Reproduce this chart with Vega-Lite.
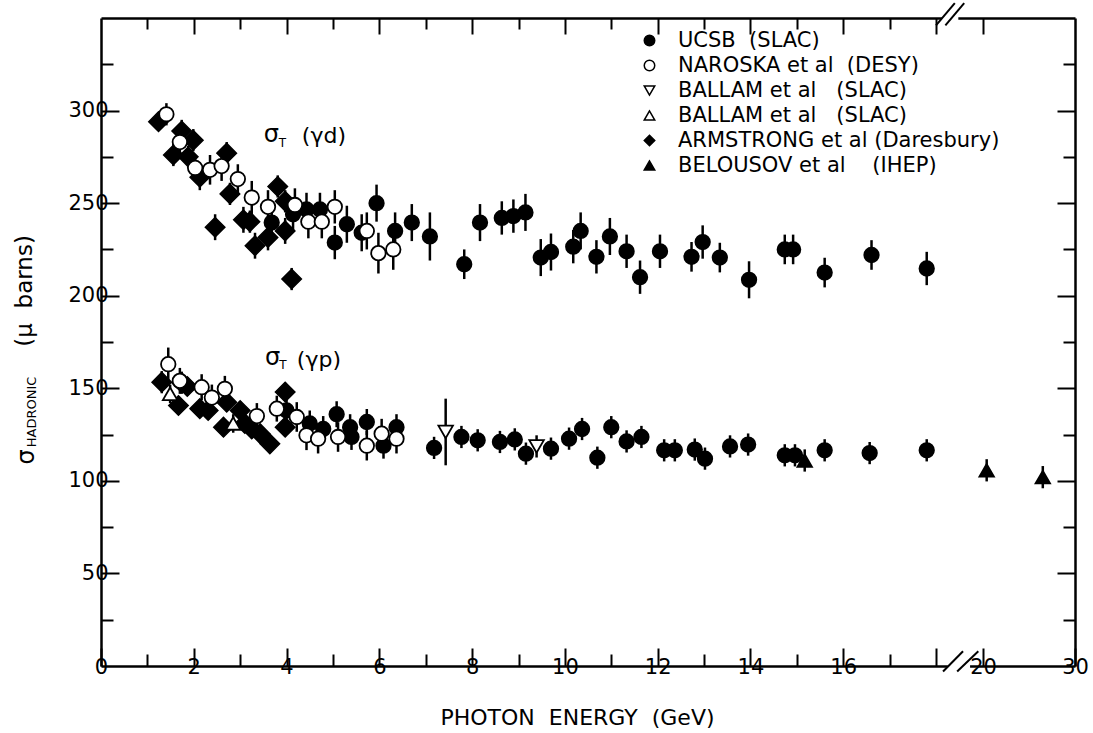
{
  "$schema": "https://vega.github.io/schema/vega-lite/v6.json",
  "width": 974,
  "height": 648,
  "autosize": "none",
  "padding": {"left": 101, "top": 18, "right": 18, "bottom": 67},
  "background": "white",
  "config": {
    "view": {"stroke": null},
    "font": "DejaVu Sans",
    "axis": {
      "grid": false,
      "ticks": true,
      "labelFont": "DejaVu Sans",
      "labelFontSize": 21,
      "labelColor": "black",
      "tickColor": "black",
      "tickWidth": 2,
      "domainColor": "black",
      "domainWidth": 2.5,
      "labelOverlap": false,
      "labelFlush": false,
      "titleFont": "DejaVu Sans",
      "titleFontWeight": "normal",
      "titleColor": "black"
    }
  },
  "datasets": {
    "sigmaT": [
      {"E": 1.24, "sigma": 294, "err": 5, "src": "ARMSTRONG et al (Daresbury)"},
      {"E": 1.74, "sigma": 289, "err": 6, "src": "ARMSTRONG et al (Daresbury)"},
      {"E": 1.99, "sigma": 284, "err": 6, "src": "ARMSTRONG et al (Daresbury)"},
      {"E": 1.56, "sigma": 276, "err": 6, "src": "ARMSTRONG et al (Daresbury)"},
      {"E": 1.88, "sigma": 275, "err": 6, "src": "ARMSTRONG et al (Daresbury)"},
      {"E": 2.13, "sigma": 264, "err": 7, "src": "ARMSTRONG et al (Daresbury)"},
      {"E": 2.71, "sigma": 277, "err": 6, "src": "ARMSTRONG et al (Daresbury)"},
      {"E": 2.78, "sigma": 255, "err": 6, "src": "ARMSTRONG et al (Daresbury)"},
      {"E": 2.46, "sigma": 237, "err": 7, "src": "ARMSTRONG et al (Daresbury)"},
      {"E": 3.07, "sigma": 241, "err": 7, "src": "ARMSTRONG et al (Daresbury)"},
      {"E": 3.21, "sigma": 240, "err": 6, "src": "ARMSTRONG et al (Daresbury)"},
      {"E": 3.32, "sigma": 227, "err": 7, "src": "ARMSTRONG et al (Daresbury)"},
      {"E": 3.6, "sigma": 231.5, "err": 7, "src": "ARMSTRONG et al (Daresbury)"},
      {"E": 3.81, "sigma": 259, "err": 6, "src": "ARMSTRONG et al (Daresbury)"},
      {"E": 3.97, "sigma": 251, "err": 6, "src": "ARMSTRONG et al (Daresbury)"},
      {"E": 3.97, "sigma": 235, "err": 7, "src": "ARMSTRONG et al (Daresbury)"},
      {"E": 4.11, "sigma": 209, "err": 6, "src": "ARMSTRONG et al (Daresbury)"},
      {"E": 3.68, "sigma": 239.5, "err": 9, "src": "UCSB\u00a0\u00a0(SLAC)"},
      {"E": 4.14, "sigma": 244, "err": 9, "src": "UCSB\u00a0\u00a0(SLAC)"},
      {"E": 4.43, "sigma": 246.6, "err": 9, "src": "UCSB\u00a0\u00a0(SLAC)"},
      {"E": 4.72, "sigma": 246.6, "err": 9, "src": "UCSB\u00a0\u00a0(SLAC)"},
      {"E": 5.04, "sigma": 228.7, "err": 9, "src": "UCSB\u00a0\u00a0(SLAC)"},
      {"E": 5.3, "sigma": 238.6, "err": 10, "src": "UCSB\u00a0\u00a0(SLAC)"},
      {"E": 5.62, "sigma": 234, "err": 10, "src": "UCSB\u00a0\u00a0(SLAC)"},
      {"E": 5.94, "sigma": 250, "err": 10, "src": "UCSB\u00a0\u00a0(SLAC)"},
      {"E": 6.34, "sigma": 235, "err": 10, "src": "UCSB\u00a0\u00a0(SLAC)"},
      {"E": 6.7, "sigma": 239.5, "err": 10, "src": "UCSB\u00a0\u00a0(SLAC)"},
      {"E": 7.09, "sigma": 232, "err": 13, "src": "UCSB\u00a0\u00a0(SLAC)"},
      {"E": 7.83, "sigma": 217, "err": 8, "src": "UCSB\u00a0\u00a0(SLAC)"},
      {"E": 8.17, "sigma": 239.5, "err": 10, "src": "UCSB\u00a0\u00a0(SLAC)"},
      {"E": 8.64, "sigma": 242, "err": 9, "src": "UCSB\u00a0\u00a0(SLAC)"},
      {"E": 8.89, "sigma": 243, "err": 9, "src": "UCSB\u00a0\u00a0(SLAC)"},
      {"E": 9.15, "sigma": 245, "err": 10, "src": "UCSB\u00a0\u00a0(SLAC)"},
      {"E": 9.48, "sigma": 220.6, "err": 10, "src": "UCSB\u00a0\u00a0(SLAC)"},
      {"E": 9.7, "sigma": 223.6, "err": 10, "src": "UCSB\u00a0\u00a0(SLAC)"},
      {"E": 10.18, "sigma": 226.5, "err": 9, "src": "UCSB\u00a0\u00a0(SLAC)"},
      {"E": 10.34, "sigma": 235, "err": 10, "src": "UCSB\u00a0\u00a0(SLAC)"},
      {"E": 10.68, "sigma": 221, "err": 9, "src": "UCSB\u00a0\u00a0(SLAC)"},
      {"E": 10.97, "sigma": 232, "err": 10, "src": "UCSB\u00a0\u00a0(SLAC)"},
      {"E": 11.33, "sigma": 224, "err": 9, "src": "UCSB\u00a0\u00a0(SLAC)"},
      {"E": 11.62, "sigma": 210, "err": 9, "src": "UCSB\u00a0\u00a0(SLAC)"},
      {"E": 12.05, "sigma": 224, "err": 9, "src": "UCSB\u00a0\u00a0(SLAC)"},
      {"E": 12.73, "sigma": 221, "err": 8, "src": "UCSB\u00a0\u00a0(SLAC)"},
      {"E": 12.97, "sigma": 229, "err": 9, "src": "UCSB\u00a0\u00a0(SLAC)"},
      {"E": 13.34, "sigma": 220.6, "err": 8, "src": "UCSB\u00a0\u00a0(SLAC)"},
      {"E": 13.97, "sigma": 208.6, "err": 10, "src": "UCSB\u00a0\u00a0(SLAC)"},
      {"E": 14.74, "sigma": 225, "err": 8, "src": "UCSB\u00a0\u00a0(SLAC)"},
      {"E": 14.92, "sigma": 225, "err": 8, "src": "UCSB\u00a0\u00a0(SLAC)"},
      {"E": 15.6, "sigma": 212.5, "err": 8, "src": "UCSB\u00a0\u00a0(SLAC)"},
      {"E": 16.61, "sigma": 222, "err": 8, "src": "UCSB\u00a0\u00a0(SLAC)"},
      {"E": 17.8, "sigma": 214.7, "err": 9, "src": "UCSB\u00a0\u00a0(SLAC)"},
      {"E": 1.41, "sigma": 298, "err": 6, "src": "NAROSKA et al\u00a0\u00a0(DESY)"},
      {"E": 1.7, "sigma": 283, "err": 7, "src": "NAROSKA et al\u00a0\u00a0(DESY)"},
      {"E": 2.03, "sigma": 269, "err": 7, "src": "NAROSKA et al\u00a0\u00a0(DESY)"},
      {"E": 2.35, "sigma": 268, "err": 8, "src": "NAROSKA et al\u00a0\u00a0(DESY)"},
      {"E": 2.6, "sigma": 270, "err": 8, "src": "NAROSKA et al\u00a0\u00a0(DESY)"},
      {"E": 2.95, "sigma": 263, "err": 8, "src": "NAROSKA et al\u00a0\u00a0(DESY)"},
      {"E": 3.25, "sigma": 253, "err": 9, "src": "NAROSKA et al\u00a0\u00a0(DESY)"},
      {"E": 3.6, "sigma": 248, "err": 9, "src": "NAROSKA et al\u00a0\u00a0(DESY)"},
      {"E": 4.18, "sigma": 249, "err": 9, "src": "NAROSKA et al\u00a0\u00a0(DESY)"},
      {"E": 4.47, "sigma": 240, "err": 9, "src": "NAROSKA et al\u00a0\u00a0(DESY)"},
      {"E": 4.76, "sigma": 240, "err": 9, "src": "NAROSKA et al\u00a0\u00a0(DESY)"},
      {"E": 5.04, "sigma": 248, "err": 9, "src": "NAROSKA et al\u00a0\u00a0(DESY)"},
      {"E": 5.73, "sigma": 235, "err": 10, "src": "NAROSKA et al\u00a0\u00a0(DESY)"},
      {"E": 5.98, "sigma": 223, "err": 11, "src": "NAROSKA et al\u00a0\u00a0(DESY)"},
      {"E": 6.3, "sigma": 225, "err": 11, "src": "NAROSKA et al\u00a0\u00a0(DESY)"},
      {"E": 1.31, "sigma": 153.3, "err": 6, "src": "ARMSTRONG et al (Daresbury)"},
      {"E": 1.74, "sigma": 153, "err": 6, "src": "ARMSTRONG et al (Daresbury)"},
      {"E": 1.86, "sigma": 151, "err": 5, "src": "ARMSTRONG et al (Daresbury)"},
      {"E": 1.67, "sigma": 140.7, "err": 5, "src": "ARMSTRONG et al (Daresbury)"},
      {"E": 2.13, "sigma": 139, "err": 5, "src": "ARMSTRONG et al (Daresbury)"},
      {"E": 2.31, "sigma": 138, "err": 5, "src": "ARMSTRONG et al (Daresbury)"},
      {"E": 2.64, "sigma": 129, "err": 5, "src": "ARMSTRONG et al (Daresbury)"},
      {"E": 2.71, "sigma": 142.5, "err": 5, "src": "ARMSTRONG et al (Daresbury)"},
      {"E": 3.0, "sigma": 138, "err": 5, "src": "ARMSTRONG et al (Daresbury)"},
      {"E": 3.1, "sigma": 131, "err": 5, "src": "ARMSTRONG et al (Daresbury)"},
      {"E": 3.25, "sigma": 128, "err": 5, "src": "ARMSTRONG et al (Daresbury)"},
      {"E": 3.43, "sigma": 125.5, "err": 5, "src": "ARMSTRONG et al (Daresbury)"},
      {"E": 3.64, "sigma": 120, "err": 5, "src": "ARMSTRONG et al (Daresbury)"},
      {"E": 3.97, "sigma": 148, "err": 5, "src": "ARMSTRONG et al (Daresbury)"},
      {"E": 3.97, "sigma": 129, "err": 5, "src": "ARMSTRONG et al (Daresbury)"},
      {"E": 4.0, "sigma": 138, "err": 7, "src": "UCSB\u00a0\u00a0(SLAC)"},
      {"E": 4.5, "sigma": 131, "err": 7, "src": "UCSB\u00a0\u00a0(SLAC)"},
      {"E": 4.79, "sigma": 128, "err": 7, "src": "UCSB\u00a0\u00a0(SLAC)"},
      {"E": 5.08, "sigma": 136, "err": 7, "src": "UCSB\u00a0\u00a0(SLAC)"},
      {"E": 5.37, "sigma": 129, "err": 7, "src": "UCSB\u00a0\u00a0(SLAC)"},
      {"E": 5.4, "sigma": 123.7, "err": 7, "src": "UCSB\u00a0\u00a0(SLAC)"},
      {"E": 5.73, "sigma": 131.8, "err": 7, "src": "UCSB\u00a0\u00a0(SLAC)"},
      {"E": 6.09, "sigma": 119, "err": 7, "src": "UCSB\u00a0\u00a0(SLAC)"},
      {"E": 6.37, "sigma": 129, "err": 7, "src": "UCSB\u00a0\u00a0(SLAC)"},
      {"E": 7.18, "sigma": 117.8, "err": 6, "src": "UCSB\u00a0\u00a0(SLAC)"},
      {"E": 7.77, "sigma": 123.7, "err": 6, "src": "UCSB\u00a0\u00a0(SLAC)"},
      {"E": 8.12, "sigma": 121.9, "err": 6, "src": "UCSB\u00a0\u00a0(SLAC)"},
      {"E": 8.6, "sigma": 121, "err": 6, "src": "UCSB\u00a0\u00a0(SLAC)"},
      {"E": 8.92, "sigma": 122.4, "err": 6, "src": "UCSB\u00a0\u00a0(SLAC)"},
      {"E": 9.16, "sigma": 114.7, "err": 6, "src": "UCSB\u00a0\u00a0(SLAC)"},
      {"E": 9.7, "sigma": 117.4, "err": 6, "src": "UCSB\u00a0\u00a0(SLAC)"},
      {"E": 10.09, "sigma": 122.8, "err": 6, "src": "UCSB\u00a0\u00a0(SLAC)"},
      {"E": 10.37, "sigma": 128, "err": 6, "src": "UCSB\u00a0\u00a0(SLAC)"},
      {"E": 10.7, "sigma": 112.5, "err": 6, "src": "UCSB\u00a0\u00a0(SLAC)"},
      {"E": 11.0, "sigma": 129, "err": 6, "src": "UCSB\u00a0\u00a0(SLAC)"},
      {"E": 11.33, "sigma": 121.3, "err": 6, "src": "UCSB\u00a0\u00a0(SLAC)"},
      {"E": 11.65, "sigma": 123.7, "err": 6, "src": "UCSB\u00a0\u00a0(SLAC)"},
      {"E": 12.14, "sigma": 116.5, "err": 6, "src": "UCSB\u00a0\u00a0(SLAC)"},
      {"E": 12.37, "sigma": 116.5, "err": 6, "src": "UCSB\u00a0\u00a0(SLAC)"},
      {"E": 12.8, "sigma": 116.9, "err": 6, "src": "UCSB\u00a0\u00a0(SLAC)"},
      {"E": 13.02, "sigma": 112, "err": 6, "src": "UCSB\u00a0\u00a0(SLAC)"},
      {"E": 13.56, "sigma": 118.6, "err": 6, "src": "UCSB\u00a0\u00a0(SLAC)"},
      {"E": 13.95, "sigma": 119.6, "err": 6, "src": "UCSB\u00a0\u00a0(SLAC)"},
      {"E": 14.74, "sigma": 113.8, "err": 6, "src": "UCSB\u00a0\u00a0(SLAC)"},
      {"E": 14.96, "sigma": 113.8, "err": 6, "src": "UCSB\u00a0\u00a0(SLAC)"},
      {"E": 15.6, "sigma": 116.5, "err": 6, "src": "UCSB\u00a0\u00a0(SLAC)"},
      {"E": 16.57, "sigma": 115, "err": 6, "src": "UCSB\u00a0\u00a0(SLAC)"},
      {"E": 17.8, "sigma": 116.5, "err": 6, "src": "UCSB\u00a0\u00a0(SLAC)"},
      {"E": 1.45, "sigma": 163, "err": 9, "src": "NAROSKA et al\u00a0\u00a0(DESY)"},
      {"E": 1.7, "sigma": 154, "err": 7, "src": "NAROSKA et al\u00a0\u00a0(DESY)"},
      {"E": 2.17, "sigma": 150.6, "err": 7, "src": "NAROSKA et al\u00a0\u00a0(DESY)"},
      {"E": 2.39, "sigma": 145, "err": 7, "src": "NAROSKA et al\u00a0\u00a0(DESY)"},
      {"E": 2.67, "sigma": 149.7, "err": 7, "src": "NAROSKA et al\u00a0\u00a0(DESY)"},
      {"E": 3.36, "sigma": 135, "err": 7, "src": "NAROSKA et al\u00a0\u00a0(DESY)"},
      {"E": 3.79, "sigma": 139, "err": 7, "src": "NAROSKA et al\u00a0\u00a0(DESY)"},
      {"E": 4.22, "sigma": 134.5, "err": 8, "src": "NAROSKA et al\u00a0\u00a0(DESY)"},
      {"E": 4.43, "sigma": 124.6, "err": 8, "src": "NAROSKA et al\u00a0\u00a0(DESY)"},
      {"E": 4.68, "sigma": 122.8, "err": 8, "src": "NAROSKA et al\u00a0\u00a0(DESY)"},
      {"E": 5.11, "sigma": 123.7, "err": 8, "src": "NAROSKA et al\u00a0\u00a0(DESY)"},
      {"E": 5.73, "sigma": 119, "err": 8, "src": "NAROSKA et al\u00a0\u00a0(DESY)"},
      {"E": 6.05, "sigma": 125.5, "err": 8, "src": "NAROSKA et al\u00a0\u00a0(DESY)"},
      {"E": 6.37, "sigma": 122.8, "err": 8, "src": "NAROSKA et al\u00a0\u00a0(DESY)"},
      {"E": 1.49, "sigma": 147, "err": 5, "src": "BALLAM et al\u00a0\u00a0\u00a0(SLAC)\u00a0"},
      {"E": 2.85, "sigma": 131, "err": 5, "src": "BALLAM et al\u00a0\u00a0\u00a0(SLAC)\u00a0"},
      {"E": 7.43, "sigma": 126.4, "err": 18, "src": "BALLAM et al\u00a0\u00a0\u00a0(SLAC)"},
      {"E": 9.39, "sigma": 118.6, "err": 6, "src": "BALLAM et al\u00a0\u00a0\u00a0(SLAC)"},
      {"E": 15.17, "sigma": 111, "err": 6, "src": "BELOUSOV et al\u00a0\u00a0\u00a0\u00a0(IHEP)"},
      {"E": 20.4, "sigma": 105.7, "err": 6, "src": "BELOUSOV et al\u00a0\u00a0\u00a0\u00a0(IHEP)"},
      {"E": 26.5, "sigma": 102, "err": 6, "src": "BELOUSOV et al\u00a0\u00a0\u00a0\u00a0(IHEP)"}
    ]
  },
  "data": {"name": "sigmaT"},
  "layer": [
    {
      "mark": {"type": "errorbar", "ticks": false, "color": "black", "thickness": 2.5},
      "encoding": {
        "x": {
          "field": "E", "type": "quantitative",
          "scale": {"type": "linear", "domain": [0, 18, 20, 30], "range": [0, 835, 882, 974], "nice": false, "zero": false},
          "axis": {
            "orient": "bottom",
            "values": [0, 2, 4, 6, 8, 10, 12, 14, 16, 18, 20, 30],
            "labelExpr": "datum.value == 18 ? '' : datum.label",
            "tickSize": -18,
            "labelPadding": 8,
            "title": "PHOTON\u00a0\u00a0ENERGY\u00a0\u00a0(GeV)",
            "titleFontSize": 22,
            "titleX": 476,
            "titleY": 51,
            "titleAlign": "center",
            "titleBaseline": "middle"
          }
        },
        "y": {
          "field": "sigma", "type": "quantitative",
          "scale": {"domain": [0, 350], "nice": false, "zero": false},
          "axis": {
            "orient": "left",
            "values": [50, 100, 150, 200, 250, 300],
            "tickSize": -18,
            "labelPadding": 11,
            "title": null
          }
        },
        "yError": {"field": "err"}
      }
    },
    {
      "transform": [{"filter": "datum.src == 'ARMSTRONG et al (Daresbury)'"}],
      "mark": {"type": "point", "filled": true, "stroke": "black", "strokeWidth": 1.5, "opacity": 1, "size": 380},
      "encoding": {
        "x": {
          "field": "E", "type": "quantitative",
          "scale": {"type": "linear", "domain": [0, 18, 20, 30], "range": [0, 835, 882, 974], "nice": false, "zero": false},
          "axis": null
        },
        "y": {
          "field": "sigma", "type": "quantitative",
          "scale": {"domain": [0, 350], "nice": false, "zero": false},
          "axis": null
        },
        "shape": {
          "field": "src", "type": "nominal",
          "scale": {
            "domain": ["UCSB\u00a0\u00a0(SLAC)", "NAROSKA et al\u00a0\u00a0(DESY)", "BALLAM et al\u00a0\u00a0\u00a0(SLAC)", "BALLAM et al\u00a0\u00a0\u00a0(SLAC)\u00a0", "ARMSTRONG et al (Daresbury)", "BELOUSOV et al\u00a0\u00a0\u00a0\u00a0(IHEP)"],
            "range": ["circle", "circle", "triangle-down", "triangle-up", "diamond", "triangle-up"]
          },
          "legend": {
            "title": null,
            "orient": "none",
            "legendX": 538,
            "legendY": 12,
            "labelFont": "DejaVu Sans",
            "labelFontSize": 21,
            "labelColor": "black",
            "labelLimit": 600,
            "labelOffset": 18,
            "rowPadding": 3,
            "symbolSize": 110,
            "symbolStrokeWidth": 1.5
          }
        },
        "fill": {
          "field": "src", "type": "nominal",
          "scale": {
            "domain": ["UCSB\u00a0\u00a0(SLAC)", "NAROSKA et al\u00a0\u00a0(DESY)", "BALLAM et al\u00a0\u00a0\u00a0(SLAC)", "BALLAM et al\u00a0\u00a0\u00a0(SLAC)\u00a0", "ARMSTRONG et al (Daresbury)", "BELOUSOV et al\u00a0\u00a0\u00a0\u00a0(IHEP)"],
            "range": ["black", "white", "white", "white", "black", "black"]
          },
          "legend": {
            "title": null,
            "orient": "none",
            "legendX": 538,
            "legendY": 12,
            "labelFont": "DejaVu Sans",
            "labelFontSize": 21,
            "labelColor": "black",
            "labelLimit": 600,
            "labelOffset": 18,
            "rowPadding": 3,
            "symbolSize": 110,
            "symbolStrokeWidth": 1.5
          }
        }
      }
    },
    {
      "transform": [{"filter": "datum.src != 'ARMSTRONG et al (Daresbury)'"}],
      "mark": {"type": "point", "filled": true, "stroke": "black", "strokeWidth": 1.8, "opacity": 1, "size": 210},
      "encoding": {
        "x": {
          "field": "E", "type": "quantitative",
          "scale": {"type": "linear", "domain": [0, 18, 20, 30], "range": [0, 835, 882, 974], "nice": false, "zero": false},
          "axis": {
            "orient": "top",
            "values": [2, 4, 6, 8, 10, 12, 14, 16, 18, 20],
            "labels": false,
            "tickSize": -16,
            "title": null
          }
        },
        "y": {
          "field": "sigma", "type": "quantitative",
          "scale": {"domain": [0, 350], "nice": false, "zero": false},
          "axis": {
            "orient": "right",
            "values": [50, 100, 150, 200, 250, 300],
            "labels": false,
            "tickSize": -18,
            "title": null
          }
        },
        "shape": {
          "field": "src", "type": "nominal",
          "scale": {
            "domain": ["UCSB\u00a0\u00a0(SLAC)", "NAROSKA et al\u00a0\u00a0(DESY)", "BALLAM et al\u00a0\u00a0\u00a0(SLAC)", "BALLAM et al\u00a0\u00a0\u00a0(SLAC)\u00a0", "ARMSTRONG et al (Daresbury)", "BELOUSOV et al\u00a0\u00a0\u00a0\u00a0(IHEP)"],
            "range": ["circle", "circle", "triangle-down", "triangle-up", "diamond", "triangle-up"]
          },
          "legend": {
            "title": null,
            "orient": "none",
            "legendX": 538,
            "legendY": 12,
            "labelFont": "DejaVu Sans",
            "labelFontSize": 21,
            "labelColor": "black",
            "labelLimit": 600,
            "labelOffset": 18,
            "rowPadding": 3,
            "symbolSize": 110,
            "symbolStrokeWidth": 1.5
          }
        },
        "fill": {
          "field": "src", "type": "nominal",
          "scale": {
            "domain": ["UCSB\u00a0\u00a0(SLAC)", "NAROSKA et al\u00a0\u00a0(DESY)", "BALLAM et al\u00a0\u00a0\u00a0(SLAC)", "BALLAM et al\u00a0\u00a0\u00a0(SLAC)\u00a0", "ARMSTRONG et al (Daresbury)", "BELOUSOV et al\u00a0\u00a0\u00a0\u00a0(IHEP)"],
            "range": ["black", "white", "white", "white", "black", "black"]
          },
          "legend": {
            "title": null,
            "orient": "none",
            "legendX": 538,
            "legendY": 12,
            "labelFont": "DejaVu Sans",
            "labelFontSize": 21,
            "labelColor": "black",
            "labelLimit": 600,
            "labelOffset": 18,
            "rowPadding": 3,
            "symbolSize": 110,
            "symbolStrokeWidth": 1.5
          }
        }
      }
    },
    {
      "data": {"values": [{}]},
      "mark": {"type": "rule", "color": "white", "strokeWidth": 6},
      "encoding": {
        "x": {
          "datum": 18.5, "type": "quantitative",
          "axis": {"orient": "bottom", "values": [1, 3, 5, 7, 9, 11, 13, 15, 17], "labels": false, "tickSize": -12, "domain": false, "title": null}
        },
        "x2": {"datum": 19.45},
        "y": {
          "datum": 0, "type": "quantitative",
          "axis": {"orient": "left", "values": [25, 75, 125, 175, 225, 275, 325], "labels": false, "tickSize": -12, "domain": false, "title": null}
        }
      }
    },
    {
      "data": {"values": [{}]},
      "mark": {"type": "rule", "color": "white", "strokeWidth": 6},
      "encoding": {
        "x": {
          "datum": 18.25, "type": "quantitative",
          "axis": {"orient": "top", "values": [1, 3, 5, 7, 9, 11, 13, 15, 17], "labels": false, "tickSize": -11, "domain": false, "title": null}
        },
        "x2": {"datum": 18.95},
        "y": {
          "datum": 350, "type": "quantitative",
          "axis": {"orient": "right", "values": [25, 75, 125, 175, 225, 275, 325], "labels": false, "tickSize": -12, "domain": false, "title": null}
        }
      }
    },
    {
      "data": {"values": [{}]},
      "mark": {"type": "rule", "color": "black", "strokeWidth": 2},
      "encoding": {
        "x": {"datum": 18.3, "type": "quantitative", "axis": null},
        "x2": {"datum": 19.15},
        "y": {"datum": -3, "type": "quantitative", "axis": null},
        "y2": {"datum": 8}
      }
    },
    {
      "data": {"values": [{}]},
      "mark": {"type": "rule", "color": "black", "strokeWidth": 2},
      "encoding": {
        "x": {"datum": 18.9, "type": "quantitative", "axis": null},
        "x2": {"datum": 19.8},
        "y": {"datum": -3, "type": "quantitative", "axis": null},
        "y2": {"datum": 8}
      }
    },
    {
      "data": {"values": [{}]},
      "mark": {"type": "rule", "color": "black", "strokeWidth": 2},
      "encoding": {
        "x": {"datum": 18.0, "type": "quantitative", "axis": null},
        "x2": {"datum": 18.8},
        "y": {"datum": 346, "type": "quantitative", "axis": null},
        "y2": {"datum": 358}
      }
    },
    {
      "data": {"values": [{}]},
      "mark": {"type": "rule", "color": "black", "strokeWidth": 2},
      "encoding": {
        "x": {"datum": 18.4, "type": "quantitative", "axis": null},
        "x2": {"datum": 19.2},
        "y": {"datum": 346, "type": "quantitative", "axis": null},
        "y2": {"datum": 358}
      }
    },
    {
      "data": {"values": [{}]},
      "mark": {"type": "text", "font": "DejaVu Sans", "fontSize": 24, "color": "black", "align": "center", "baseline": "middle"},
      "encoding": {
        "x": {"datum": 3.674, "type": "quantitative", "axis": null},
        "y": {"datum": 287, "type": "quantitative", "axis": null},
        "text": {"value": "σ"}
      }
    },
    {
      "data": {"values": [{}]},
      "mark": {"type": "text", "font": "DejaVu Sans", "fontSize": 12, "color": "black", "align": "center", "baseline": "middle"},
      "encoding": {
        "x": {"datum": 3.91, "type": "quantitative", "axis": null},
        "y": {"datum": 282.5, "type": "quantitative", "axis": null},
        "text": {"value": "T"}
      }
    },
    {
      "data": {"values": [{}]},
      "mark": {"type": "text", "font": "DejaVu Sans", "fontSize": 22, "color": "black", "align": "center", "baseline": "middle"},
      "encoding": {
        "x": {"datum": 4.806, "type": "quantitative", "axis": null},
        "y": {"datum": 286.3, "type": "quantitative", "axis": null},
        "text": {"value": "(γd)"}
      }
    },
    {
      "data": {"values": [{}]},
      "mark": {"type": "text", "font": "DejaVu Sans", "fontSize": 24, "color": "black", "align": "center", "baseline": "middle"},
      "encoding": {
        "x": {"datum": 3.7, "type": "quantitative", "axis": null},
        "y": {"datum": 166.5, "type": "quantitative", "axis": null},
        "text": {"value": "σ"}
      }
    },
    {
      "data": {"values": [{}]},
      "mark": {"type": "text", "font": "DejaVu Sans", "fontSize": 12, "color": "black", "align": "center", "baseline": "middle"},
      "encoding": {
        "x": {"datum": 3.92, "type": "quantitative", "axis": null},
        "y": {"datum": 162.5, "type": "quantitative", "axis": null},
        "text": {"value": "T"}
      }
    },
    {
      "data": {"values": [{}]},
      "mark": {"type": "text", "font": "DejaVu Sans", "fontSize": 22, "color": "black", "align": "center", "baseline": "middle"},
      "encoding": {
        "x": {"datum": 4.698, "type": "quantitative", "axis": null},
        "y": {"datum": 165.3, "type": "quantitative", "axis": null},
        "text": {"value": "(γp)"}
      }
    },
    {
      "data": {"values": [{}]},
      "mark": {"type": "text", "font": "DejaVu Sans", "fontSize": 23, "color": "black", "align": "center", "baseline": "middle", "angle": 270},
      "encoding": {
        "x": {"datum": -1.638, "type": "quantitative", "axis": null},
        "y": {"datum": 202.6, "type": "quantitative", "axis": null},
        "text": {"value": "(μ\u00a0\u00a0barns)"}
      }
    },
    {
      "data": {"values": [{}]},
      "mark": {"type": "text", "font": "DejaVu Sans", "fontSize": 13, "color": "black", "align": "center", "baseline": "middle", "angle": 270},
      "encoding": {
        "x": {"datum": -1.487, "type": "quantitative", "axis": null},
        "y": {"datum": 137.2, "type": "quantitative", "axis": null},
        "text": {"value": "HADRONIC"}
      }
    },
    {
      "data": {"values": [{}]},
      "mark": {"type": "text", "font": "DejaVu Sans", "fontSize": 24, "color": "black", "align": "center", "baseline": "middle", "angle": 270},
      "encoding": {
        "x": {"datum": -1.595, "type": "quantitative", "axis": null},
        "y": {"datum": 112.9, "type": "quantitative", "axis": null},
        "text": {"value": "σ"}
      }
    }
  ],
  "resolve": {"axis": {"x": "independent", "y": "independent"}}
}
